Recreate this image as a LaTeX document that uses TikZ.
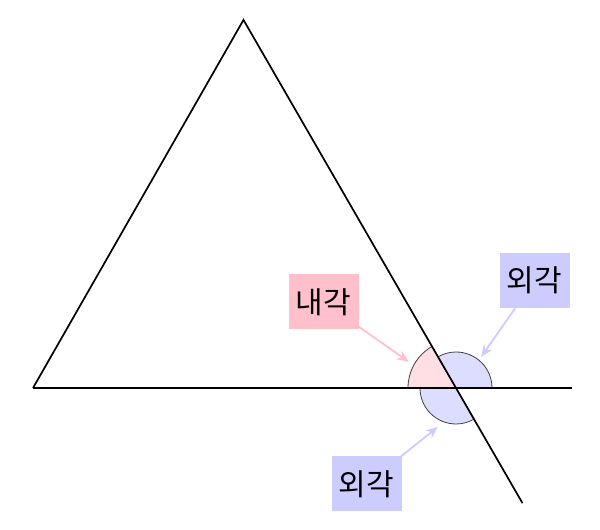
\documentclass[tikz,border=0pt]{standalone}
\usepackage{fontspec}
\newfontfamily\hangul{Noto Sans CJK KR}
\usetikzlibrary{positioning, arrows.meta, calc}
\definecolor{naepink}{RGB}{255,192,203}
\definecolor{naefill}{RGB}{255,222,228}
\definecolor{oeblue}{RGB}{204,204,255}
\definecolor{oefill}{RGB}{221,221,255}

\begin{document}
\begin{tikzpicture}[x=1pt,y=1pt,>={Stealth[length=12pt,width=10pt]},
                font=\hangul\fontsize{30}{32}\selectfont,
                box/.style={minimum width=70pt,minimum height=55pt,inner sep=0pt},
                edge/.style={line width=1.7pt},
                arcline/.style={draw=black!75,line width=0.8pt},
                pointer/.style={->,line width=1.8pt}]
                \useasboundingbox (0,0) rectangle (600,530);
                \coordinate (C) at (456,142);
                \coordinate (A) at ($(C)+(120:425)$);
                \coordinate (B) at (33,142);
                \coordinate (E) at (572,142);
                \coordinate (D) at ($(C)+(300:133)$);
                % angles at C
                \filldraw[fill=naefill,arcline] (C) -- ++(120:48) arc (120:180:48) -- cycle;
                \filldraw[fill=oefill,arcline] (C) -- ++(0:36) arc (0:120:36) -- cycle;
                \filldraw[fill=oefill,arcline] (C) -- ++(180:36) arc (180:300:36) -- cycle;
                % triangle and extended sides
                \draw[edge] (B) -- (A) -- (D);
                \draw[edge] (B) -- (E);
                % labels
                \node[box,fill=naepink] (inner) at (323.5,228) {내각};
                \node[box,fill=oeblue] (outerup) at (534.5,249.5) {외각};
                \node[box,fill=oeblue] (outerdown) at (366.5,46) {외각};
                \coordinate (innertip) at ($(C)+(151:54)$);
                \coordinate (outeruptip) at ($(C)+(51:40)$);
                \coordinate (outerdowntip) at ($(C)+(245:43)$);
                \draw[pointer,naepink] (inner) -- (innertip);
                \draw[pointer,oeblue] (outerup) -- (outeruptip);
                \draw[pointer,oeblue] (outerdown) -- (outerdowntip);
\end{tikzpicture}
\end{document}
